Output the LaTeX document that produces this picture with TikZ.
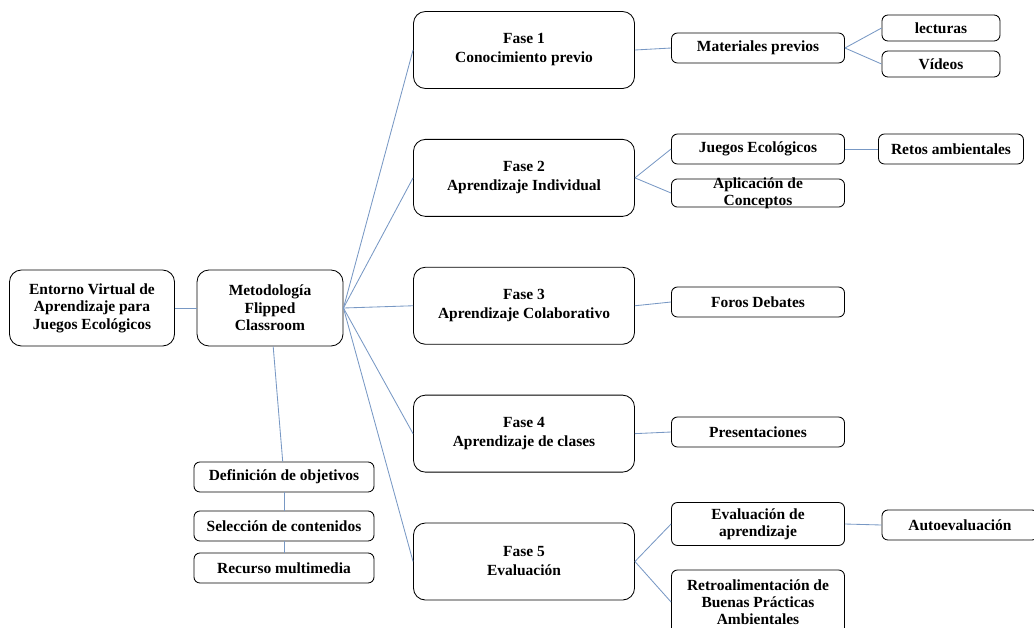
\documentclass[tikz,border=0pt]{standalone}
\usepackage{fontspec}
\setmainfont{Liberation Serif}
\usetikzlibrary{positioning}
\definecolor{mylinecol}{RGB}{120,152,196}
\tikzset{
  mybox/.style = {rectangle, rounded corners=3mm, draw, line width=0.6pt, minimum height=1.925cm, minimum width=5.525cm, align=center, font=\bfseries\fontsize{11}{13.5}\selectfont},
  mysmall/.style = {rectangle, rounded corners=1.5mm, draw, line width=0.6pt, minimum height=0.75cm, minimum width=4.325cm, align=center, font=\bfseries\fontsize{11}{12}\selectfont},
  myline/.style = {draw=mylinecol, line width=0.6pt},
}
\begin{document}
\begin{tikzpicture}[x=0.025cm, y=-0.025cm, node distance=1.25cm]
\useasboundingbox (0,0) rectangle (1034,627);
% left part
\node (ent) [mybox, minimum width=4.125cm, minimum height=1.9cm, font=\bfseries\fontsize{11}{12.5}\selectfont] at (92,308) {Entorno Virtual de\\Aprendizaje para\\Juegos Ecológicos};
\node (met) [mybox, minimum width=3.65cm, minimum height=1.9cm, font=\bfseries\fontsize{11}{12.5}\selectfont] at (270,308) {Metodología\\Flipped\\Classroom};
\node (def) [mysmall, minimum width=4.5cm] at (284,477) {Definición de objetivos};
\node (sel) [mysmall, minimum width=4.5cm] at (284,526) {Selección de contenidos};
\node (rec) [mysmall, minimum width=4.5cm] at (284,568) {Recurso multimedia};
% phases
\node (f1) [mybox] at (524,50) {Fase 1\\Conocimiento previo};
\node (f2) [mybox, below=of f1] {Fase 2\\Aprendizaje Individual};
\node (f3) [mybox, below=of f2] {Fase 3\\Aprendizaje Colaborativo};
\node (f4) [mybox, below=of f3] {Fase 4\\Aprendizaje de clases};
\node (f5) [mybox, below=of f4] {Fase 5\\Evaluación};
% right part
\node (mat) [mysmall] at (758,48) {Materiales previos};
\node (lec) [mysmall, minimum width=2.95cm, minimum height=0.65cm] at (941,28) {lecturas};
\node (vid) [mysmall, minimum width=2.95cm, minimum height=0.65cm] at (941,64) {Vídeos};
\node (jue) [mysmall] at (758,149) {Juegos Ecológicos};
\node (ret) [mysmall, minimum width=3.625cm] at (951,149) {Retos ambientales};
\node (apl) [mysmall, inner ysep=-1pt, minimum height=0pt] at (758,193) {Aplicación de\\Conceptos};
\node (for) [mysmall] at (758,302) {Foros Debates};
\node (pre) [mysmall] at (758,432) {Presentaciones};
\node (eva) [mysmall, minimum height=1.075cm] at (758,524) {Evaluación de\\aprendizaje};
\node (aut) [mysmall, minimum width=3.9cm] at (960,525) {Autoevaluación};
\node (rtr) [mysmall, minimum height=1.6cm] at (758,602) {Retroalimentación de\\Buenas Prácticas\\Ambientales};

\draw[myline] (ent) -- (met);
\foreach \v in {f1,f2,f3,f4,f5}{
  \draw[myline] (met.east) -- (\v.west);
}
\foreach \u/\v in {met/def,def/sel,sel/rec}{
  \draw[myline] (\u) -- (\v);
}
\foreach \u/\v in {f1/mat,mat/lec,mat/vid,f2/jue,f2/apl,jue/ret,f3/for,f4/pre,f5/eva,f5/rtr,eva/aut}{
  \draw[myline] (\u.east) -- (\v.west);
}
\end{tikzpicture}
\end{document}
